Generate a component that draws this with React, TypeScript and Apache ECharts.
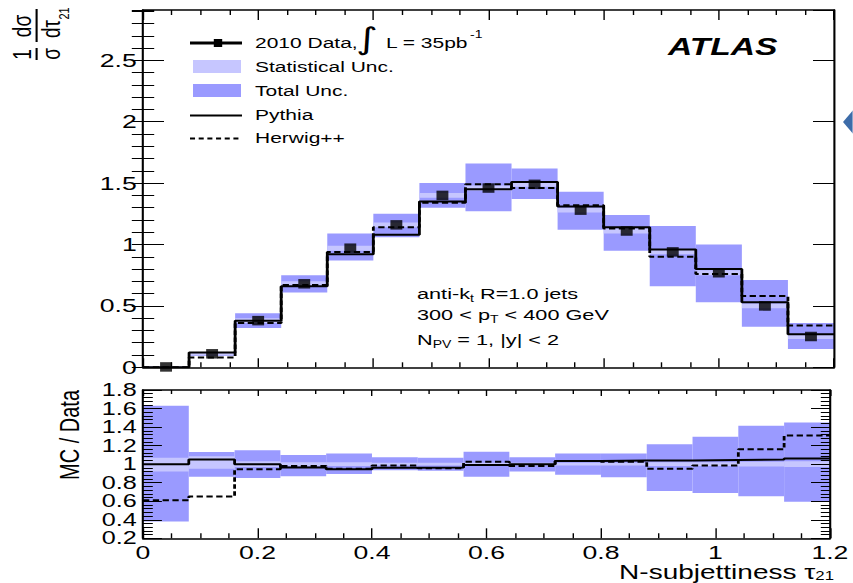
import React, { useEffect, useRef } from 'react';
import * as echarts from 'echarts';

// The reference picture is horizontally stretched; render in a narrower box and stretch with CSS.
const S = 1.4;
const PAGE_W = 853;
const PAGE_H = 583;
const W = PAGE_W / S;
const X = (x: number) => x / S;
const FONT = 'Liberation Sans';

// ---------------- data ----------------
const binEdges = [0, 0.08, 0.16, 0.24, 0.32, 0.4, 0.48, 0.56, 0.64, 0.72, 0.8, 0.88, 0.96, 1.04, 1.12, 1.2];
const binCenters = [0.04, 0.12, 0.2, 0.28, 0.36, 0.44, 0.52, 0.6, 0.68, 0.76, 0.84, 0.92, 1.0, 1.08, 1.16];

const dataValues = [0.003, 0.11, 0.38, 0.68, 0.97, 1.16, 1.4, 1.46, 1.49, 1.28, 1.11, 0.94, 0.77, 0.5, 0.25];
const statLow = [0, 0.1, 0.36, 0.66, 0.95, 1.14, 1.38, 1.44, 1.47, 1.26, 1.09, 0.92, 0.75, 0.48, 0.23];
const statHigh = [0.01, 0.12, 0.4, 0.7, 0.99, 1.18, 1.42, 1.48, 1.51, 1.3, 1.13, 0.96, 0.79, 0.52, 0.27];
const totalLow = [0, 0.095, 0.32, 0.61, 0.87, 1.06, 1.3, 1.27, 1.37, 1.12, 0.95, 0.66, 0.53, 0.33, 0.15];
const totalHigh = [0.008, 0.125, 0.44, 0.75, 1.09, 1.25, 1.5, 1.66, 1.62, 1.43, 1.24, 1.15, 1.0, 0.71, 0.36];
const pythia = [0, 0.12, 0.38, 0.66, 0.92, 1.08, 1.35, 1.45, 1.51, 1.31, 1.14, 0.96, 0.8, 0.53, 0.27];
const herwig = [0, 0.08, 0.36, 0.67, 0.94, 1.14, 1.34, 1.49, 1.46, 1.32, 1.13, 0.9, 0.76, 0.58, 0.34];

const ratioTotalLow = [0.38, 0.865, 0.85, 0.87, 0.895, 0.935, 0.93, 0.865, 0.92, 0.885, 0.86, 0.71, 0.69, 0.655, 0.595];
const ratioTotalHigh = [1.63, 1.13, 1.15, 1.1, 1.115, 1.075, 1.07, 1.135, 1.075, 1.115, 1.115, 1.215, 1.295, 1.415, 1.45];
const ratioStatLow = [0.92, 0.95, 0.97, 0.98, 0.98, 0.985, 0.985, 0.985, 0.985, 0.985, 0.985, 0.98, 0.98, 0.975, 0.97];
const ratioStatHigh = [1.07, 1.085, 1.03, 1.02, 1.02, 1.015, 1.015, 1.015, 1.015, 1.015, 1.015, 1.02, 1.02, 1.025, 1.03];
const ratioPythia = [1.0, 1.05, 1.0, 0.965, 0.945, 0.96, 0.965, 0.99, 1.0, 1.035, 1.04, 1.04, 1.045, 1.05, 1.06];
const ratioHerwig = [0.61, 0.65, 0.945, 0.98, 0.95, 0.985, 0.955, 1.025, 0.98, 1.035, 1.025, 0.95, 0.985, 1.16, 1.31];

// ---------------- helpers ----------------
const TOTAL_COLOR = '#9a9aff';
const STAT_COLOR = '#c6c6ff';

const stepData = (vals: number[]) => binEdges.map((e, i) => [e, vals[Math.min(i, vals.length - 1)]]);
const bandData = (lo: number[], hi: number[]) => lo.map((l, i) => [binEdges[i], binEdges[i + 1], l, hi[i]]);

const bandSeries = (name: string, lo: number[], hi: number[], color: string, xi: number, yi: number, z: number) => ({
  type: 'custom',
  name,
  xAxisIndex: xi,
  yAxisIndex: yi,
  z,
  silent: true,
  encode: { x: [0, 1], y: [2, 3] },
  data: bandData(lo, hi),
  renderItem: (params: any, api: any) => {
    const p0 = api.coord([api.value(0), api.value(3)]);
    const p1 = api.coord([api.value(1), api.value(2)]);
    return {
      type: 'rect',
      shape: { x: p0[0], y: p0[1], width: p1[0] - p0[0], height: Math.max(p1[1] - p0[1], 0.5) },
      style: { fill: color },
    };
  },
});

const lineSeries = (name: string, vals: number[], dashed: boolean, xi: number, yi: number) => ({
  type: 'line',
  name,
  xAxisIndex: xi,
  yAxisIndex: yi,
  step: 'end',
  symbol: 'none',
  z: 3,
  data: stepData(vals),
  lineStyle: { color: '#000', width: 2, type: dashed ? [4.5, 2.5] : 'solid' },
});

const fmt = (v: number) => String(Math.round(v * 100) / 100);

const axisLineStyle = { show: true, onZero: false, lineStyle: { color: '#000', width: 1.5 } };
const tickStyle = { color: '#000', width: 1 };
const labelStyle = { fontSize: 19, lineHeight: 16, fontFamily: FONT, color: '#000', formatter: fmt, hideOverlap: false };

const GRID_LEFT = X(143);
const GRID_W = X(834) - X(143);

const option: any = {
  animation: false,
  backgroundColor: '#fff',
  grid: [
    { left: GRID_LEFT, top: 10, width: GRID_W, height: 357.3 },
    { left: GRID_LEFT, top: 390, width: GRID_W, height: 148.3 },
  ],
  xAxis: [
    {
      gridIndex: 0, type: 'value', position: 'bottom', min: 0, max: 1.2, interval: 0.2, z: 10,
      axisLine: axisLineStyle,
      axisTick: { show: true, inside: true, length: 9, lineStyle: tickStyle },
      minorTick: { show: true, splitNumber: 4, length: 5, lineStyle: tickStyle },
      axisLabel: { show: false }, splitLine: { show: false },
    },
    {
      gridIndex: 0, type: 'value', position: 'top', min: 0, max: 1.2, interval: 0.2, z: 10,
      axisLine: axisLineStyle,
      axisTick: { show: true, inside: true, length: 10, lineStyle: tickStyle },
      minorTick: { show: true, splitNumber: 4, length: 5, lineStyle: tickStyle },
      axisLabel: { show: false }, splitLine: { show: false },
    },
    {
      gridIndex: 1, type: 'value', position: 'bottom', min: 0, max: 1.2, interval: 0.2, z: 10,
      axisLine: axisLineStyle,
      axisTick: { show: true, inside: true, length: 10, lineStyle: tickStyle },
      minorTick: { show: true, splitNumber: 4, length: 5, lineStyle: tickStyle },
      axisLabel: { ...labelStyle, margin: 6, showMinLabel: true, showMaxLabel: true }, splitLine: { show: false },
    },
    {
      gridIndex: 1, type: 'value', position: 'top', min: 0, max: 1.2, interval: 0.2, z: 10,
      axisLine: axisLineStyle,
      axisTick: { show: true, inside: true, length: 6, lineStyle: tickStyle },
      minorTick: { show: true, splitNumber: 4, length: 4, lineStyle: tickStyle },
      axisLabel: { show: false }, splitLine: { show: false },
    },
  ],
  yAxis: [
    {
      gridIndex: 0, type: 'value', position: 'left', min: 0, max: 2.91, interval: 0.5, z: 10,
      axisLine: axisLineStyle,
      axisTick: { show: true, inside: true, length: 15, lineStyle: tickStyle },
      axisLabel: { ...labelStyle, margin: 4.5, showMaxLabel: false }, splitLine: { show: false },
    },
    {
      gridIndex: 0, type: 'value', position: 'left', min: 0, max: 2.91, interval: 0.1, z: 10,
      axisLine: { show: false },
      axisTick: { show: true, inside: true, length: 8, lineStyle: tickStyle },
      axisLabel: { show: false }, splitLine: { show: false },
    },
    {
      gridIndex: 0, type: 'value', position: 'right', min: 0, max: 2.91, interval: 0.5, z: 10,
      axisLine: axisLineStyle,
      axisTick: { show: true, inside: true, length: 15, lineStyle: tickStyle },
      axisLabel: { show: false }, splitLine: { show: false },
    },
    {
      gridIndex: 0, type: 'value', position: 'right', min: 0, max: 2.91, interval: 0.1, z: 10,
      axisLine: { show: false },
      axisTick: { show: true, inside: true, length: 8, lineStyle: tickStyle },
      axisLabel: { show: false }, splitLine: { show: false },
    },
    {
      gridIndex: 1, type: 'value', position: 'left', min: 0.2, max: 1.8, interval: 0.2, z: 10,
      axisLine: axisLineStyle,
      axisTick: { show: true, inside: true, length: 13.5, lineStyle: tickStyle },
      minorTick: { show: true, splitNumber: 5, length: 7, lineStyle: tickStyle },
      axisLabel: { ...labelStyle, fontSize: 18, lineHeight: 14, margin: 4.5, showMinLabel: true, showMaxLabel: true },
      splitLine: { show: false },
    },
    {
      gridIndex: 1, type: 'value', position: 'right', min: 0.2, max: 1.8, interval: 0.2, z: 10,
      axisLine: axisLineStyle,
      axisTick: { show: true, inside: true, length: 13.5, lineStyle: tickStyle },
      minorTick: { show: true, splitNumber: 5, length: 6.5, lineStyle: tickStyle },
      axisLabel: { show: false }, splitLine: { show: false },
    },
  ],
  series: [
    bandSeries('Total Unc.', totalLow, totalHigh, TOTAL_COLOR, 0, 0, 1),
    bandSeries('Statistical Unc.', statLow, statHigh, STAT_COLOR, 0, 0, 2),
    lineSeries('Pythia', pythia, false, 0, 0),
    lineSeries('Herwig++', herwig, true, 0, 0),
    {
      type: 'scatter',
      name: '2010 Data',
      xAxisIndex: 0,
      yAxisIndex: 0,
      z: 4,
      symbol: 'rect',
      symbolSize: [8.5, 9.5],
      itemStyle: { color: '#000' },
      data: binCenters.map((c, i) => [c, dataValues[i]]),
    },
    bandSeries('Total Unc. ratio', ratioTotalLow, ratioTotalHigh, TOTAL_COLOR, 2, 4, 1),
    bandSeries('Statistical Unc. ratio', ratioStatLow, ratioStatHigh, STAT_COLOR, 2, 4, 2),
    lineSeries('Pythia / Data', ratioPythia, false, 2, 4),
    lineSeries('Herwig++ / Data', ratioHerwig, true, 2, 4),
  ],
  graphic: [
    // ---- legend ----
    { type: 'line', shape: { x1: X(190), y1: 43, x2: X(242), y2: 43 }, style: { stroke: '#000', lineWidth: 3 } },
    { type: 'rect', shape: { x: X(218) - 3, y: 39, width: 6, height: 8 }, style: { fill: '#000' } },
    { type: 'text', x: X(255), y: 43, style: { text: '2010 Data,', fontSize: 15, fontFamily: FONT, fill: '#000', verticalAlign: 'middle' } },
    { type: 'text', x: X(367), y: 39, style: { text: '∫', fontSize: 30, fontFamily: 'DejaVu Sans', fill: '#000', align: 'center', verticalAlign: 'middle' } },
    { type: 'text', x: X(386), y: 43, style: { text: 'L = 35pb', fontSize: 15, fontFamily: FONT, fill: '#000', verticalAlign: 'middle' } },
    { type: 'text', x: X(470), y: 35, style: { text: '-1', fontSize: 10, fontFamily: FONT, fill: '#000', verticalAlign: 'middle' } },

    { type: 'rect', shape: { x: X(193), y: 60, width: X(241) - X(193), height: 13 }, style: { fill: STAT_COLOR } },
    { type: 'text', x: X(255), y: 67, style: { text: 'Statistical Unc.', fontSize: 15, fontFamily: FONT, fill: '#000', verticalAlign: 'middle' } },

    { type: 'rect', shape: { x: X(193), y: 84, width: X(241) - X(193), height: 13 }, style: { fill: TOTAL_COLOR } },
    { type: 'text', x: X(255), y: 91, style: { text: 'Total Unc.', fontSize: 15, fontFamily: FONT, fill: '#000', verticalAlign: 'middle' } },

    { type: 'line', shape: { x1: X(190), y1: 115.5, x2: X(242), y2: 115.5 }, style: { stroke: '#000', lineWidth: 2 } },
    { type: 'text', x: X(255), y: 115, style: { text: 'Pythia', fontSize: 15, fontFamily: FONT, fill: '#000', verticalAlign: 'middle' } },

    { type: 'line', shape: { x1: X(190), y1: 138.5, x2: X(242), y2: 138.5 }, style: { stroke: '#000', lineWidth: 2, lineDash: [3.6, 2.6] } },
    { type: 'text', x: X(255), y: 138, style: { text: 'Herwig++', fontSize: 15, fontFamily: FONT, fill: '#000', verticalAlign: 'middle' } },

    // ---- ATLAS label ----
    { type: 'text', x: X(668), y: 47, style: { text: 'ATLAS', fontSize: 24, fontFamily: FONT, fontWeight: 'bold', fontStyle: 'italic', fill: '#000', verticalAlign: 'middle' } },

    // ---- annotation ----
    {
      type: 'text', x: X(417), y: 294,
      style: {
        text: '{a|anti-k}{s|t}{a| R=1.0 jets}', verticalAlign: 'middle',
        rich: { a: { fontSize: 15.5, fontFamily: FONT, fill: '#000' }, s: { fontSize: 10, fontFamily: FONT, fill: '#000', padding: [9, 0, 0, 0] } },
      },
    },
    {
      type: 'text', x: X(417), y: 315,
      style: {
        text: '{a|300 < p}{s|T}{a| < 400 GeV}', verticalAlign: 'middle',
        rich: { a: { fontSize: 15.5, fontFamily: FONT, fill: '#000' }, s: { fontSize: 10, fontFamily: FONT, fill: '#000', padding: [9, 0, 0, 0] } },
      },
    },
    {
      type: 'text', x: X(417), y: 340,
      style: {
        text: '{a|N}{s|PV}{a| = 1, |y| < 2}', verticalAlign: 'middle',
        rich: { a: { fontSize: 15.5, fontFamily: FONT, fill: '#000' }, s: { fontSize: 10, fontFamily: FONT, fill: '#000', padding: [9, 0, 0, 0] } },
      },
    },

    // ---- axis titles ----
    {
      type: 'text', x: X(834), y: 572,
      style: {
        text: '{a|N-subjettiness τ}{s|21}', align: 'right', verticalAlign: 'middle',
        rich: { a: { fontSize: 20, lineHeight: 16, fontFamily: FONT, fill: '#000' }, s: { fontSize: 12, lineHeight: 10, fontFamily: FONT, fill: '#000', padding: [8, 0, 0, 0] } },
      },
    },
    {
      type: 'text', x: X(69), y: 435, rotation: Math.PI / 2,
      style: { text: 'MC / Data', fontSize: 20, fontFamily: FONT, fill: '#000', align: 'center', verticalAlign: 'middle' },
    },
    {
      type: 'group', x: X(10), y: 60, rotation: Math.PI / 2,
      children: [
        { type: 'text', x: 5.5, y: 8.5, style: { text: '1', fontSize: 19, fontFamily: FONT, fill: '#000', align: 'center', verticalAlign: 'middle' } },
        { type: 'line', shape: { x1: 0, y1: 19, x2: 12, y2: 19 }, style: { stroke: '#000', lineWidth: 1.5 } },
        { type: 'text', x: 6, y: 29, style: { text: 'σ', fontSize: 19, fontFamily: FONT, fill: '#000', align: 'center', verticalAlign: 'middle' } },
        { type: 'text', x: 34, y: 8.5, style: { text: 'dσ', fontSize: 19, fontFamily: FONT, fill: '#000', align: 'center', verticalAlign: 'middle' } },
        { type: 'line', shape: { x1: 18, y1: 19, x2: 51, y2: 19 }, style: { stroke: '#000', lineWidth: 1.5 } },
        { type: 'text', x: 31, y: 29, style: { text: 'dτ', fontSize: 19, fontFamily: FONT, fill: '#000', align: 'center', verticalAlign: 'middle' } },
        { type: 'text', x: 46.5, y: 38.5, style: { text: '21', fontSize: 11, fontFamily: FONT, fill: '#000', align: 'center', verticalAlign: 'middle' } },
      ],
    },

    // ---- blue arrow at the right edge ----
    { type: 'polygon', shape: { points: [[X(843), 122], [X(854), 109], [X(854), 135]] }, style: { fill: '#3d6ca9' } },
  ],
};

export default function App() {
  const ref = useRef<HTMLDivElement>(null);
  useEffect(() => {
    if (!ref.current) return;
    const chart = echarts.init(ref.current, null, { renderer: 'svg' });
    chart.setOption(option);
    return () => chart.dispose();
  }, []);
  return (
    <div
      ref={ref}
      style={{
        position: 'absolute',
        left: 0,
        top: 0,
        width: W,
        height: PAGE_H,
        transform: `scaleX(${S})`,
        transformOrigin: '0 0',
        background: '#fff',
      }}
    />
  );
}
